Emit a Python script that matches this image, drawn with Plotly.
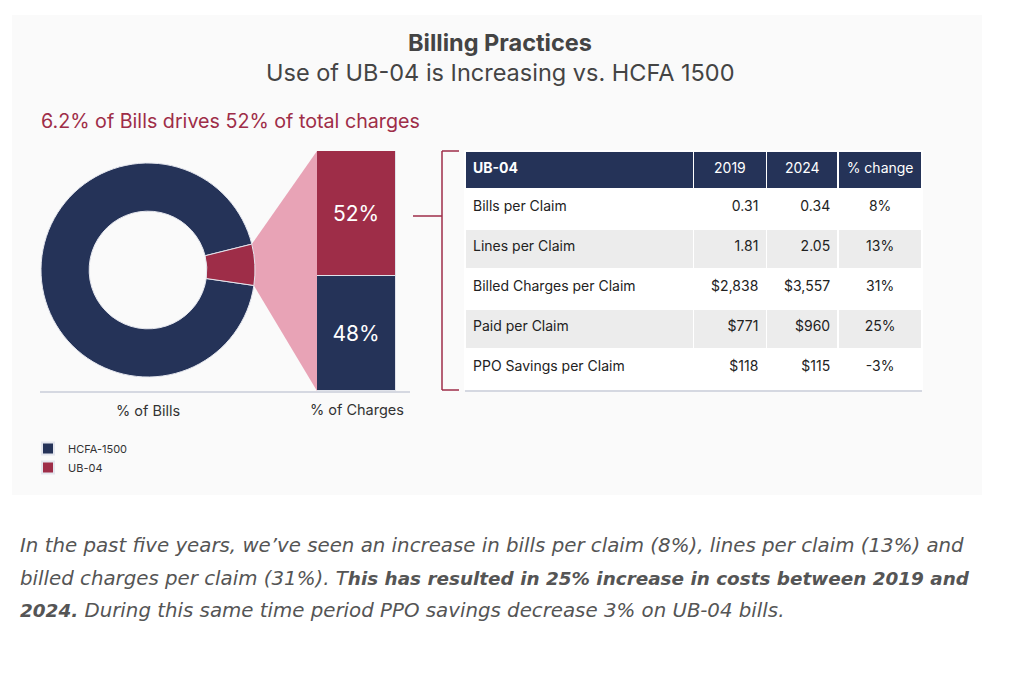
import math

import plotly.graph_objects as go

# the page puts the figure 8px in from the top-left corner
OFF = 8
W, H = 1008, 669

# data
bill_labels = ["HCFA-1500", "UB-04"]
bill_share = [93.8, 6.2]
charge_share = {"HCFA-1500": 48, "UB-04": 52}

table_header = ["UB-04", "2019", "2024", "% change"]
row_names = ["Bills per Claim", "Lines per Claim", "Billed Charges per Claim", "Paid per Claim",
             "PPO Savings per Claim"]
vals_2019 = ["0.31", "1.81", "$2,838", "$771", "$118"]
vals_2024 = ["0.34", "2.05", "$3,557", "$960", "$115"]
pct_change = ["8%", "13%", "31%", "25%", "-3%"]

NAVY = "#253358"
RED = "#9e2d48"
PINK = "#e8a3b6"
GREY_ROW = "#ececec"
FONT = "Inter"


def px(x):
    return (x - OFF) / W


def py(y):
    return 1 - (y - OFF) / H


def span(items):
    # tagged text sits a little lower in table cells, closer to the reference
    return ["<span>{}</span>".format(s.replace(" ", "\u00a0")) for s in items]


# donut geometry (pixels, page coords)
cx, cy, r_out = 148, 270, 107
ub_deg = 360 * bill_share[1] / sum(bill_share)
ub_start = 76  # clockwise from 12 o'clock
rotation = ub_start + ub_deg

fig = go.Figure()

fig.add_trace(go.Pie(
    labels=bill_labels, values=bill_share, hole=0.55, sort=False, direction="clockwise",
    rotation=rotation, textinfo="none", hoverinfo="label+percent",
    marker=dict(colors=[NAVY, RED], line=dict(color="#e4e6ee", width=1)),
    domain=dict(x=[px(cx - r_out), px(cx + r_out)], y=[py(cy + r_out), py(cy - r_out)]),
))

# stacked bar of charges
bar_left, bar_right, bar_top, bar_bot = 317, 396, 151, 391
for name, col in [("HCFA-1500", NAVY), ("UB-04", RED)]:
    fig.add_trace(go.Bar(
        x=["% of Charges"], y=[charge_share[name]], name=name, showlegend=False, width=1,
        marker=dict(color=col, line=dict(color="#dfe2ea", width=1)),
        text=["{}%".format(charge_share[name])], textposition="inside", insidetextanchor="middle",
        textfont=dict(color="white", size=21, family=FONT),
        xaxis="x", yaxis="y",
    ))

# table
header_vals = ["<b>{}</b>".format(table_header[0])] + span(table_header[1:])
fig.add_trace(go.Table(
    domain=dict(x=[px(465), px(922)], y=[py(391), py(151)]),
    columnwidth=[229, 73, 72, 84],
    header=dict(values=header_vals,
                fill_color=NAVY, line=dict(color="white", width=1.5),
                align=["left", "center", "center", "center"], height=38,
                font=dict(color="white", size=14, family=FONT)),
    cells=dict(values=[span(row_names), span(vals_2019), span(vals_2024), span(pct_change)],
               fill_color=[["white", GREY_ROW, "white", GREY_ROW, "white"]] * 4,
               line=dict(color="white", width=1.5),
               align=["left", "right", "right", "center"], height=40,
               font=dict(color="#222", size=14, family=FONT)),
))

# connector wedge from the UB-04 slice to the bar
a1 = math.radians(90 - ub_start)
a2 = math.radians(90 - ub_start - ub_deg)
p1 = (cx + r_out * math.cos(a1), cy - r_out * math.sin(a1))
p2 = (cx + r_out * math.cos(a2), cy - r_out * math.sin(a2))
path = "M {} {} L {} {} L {} {} L {} {} Z".format(
    px(p1[0]), py(p1[1]), px(bar_left), py(bar_top), px(bar_left), py(bar_bot), px(p2[0]), py(p2[1]))


def hline(x0, x1, y, color, width=1.5):
    return dict(type="line", xref="paper", yref="paper", x0=px(x0), x1=px(x1), y0=py(y), y1=py(y),
                line=dict(color=color, width=width))


shapes = [
    # faint backdrop panel
    dict(type="rect", xref="paper", yref="paper", x0=px(12), x1=px(982), y0=py(495), y1=py(15),
         fillcolor="#fafafa", line=dict(width=0), layer="below"),
    dict(type="path", path=path, xref="paper", yref="paper", fillcolor=PINK, line=dict(width=0), layer="below"),
    hline(40, 410, 392, "#c9cdd8"),
    # bracket
    hline(413, 442, 216, RED),
    dict(type="line", xref="paper", yref="paper", x0=px(442), x1=px(442), y0=py(151), y1=py(390),
         line=dict(color=RED, width=1.5)),
    hline(442, 459, 151, RED),
    hline(442, 459, 390, RED),
    # table bottom rule
    hline(465, 922, 391, "#c9cdd8"),
]

PARA = dict(size=19.8, color="#555", family="DejaVu Sans")
BOLD = '<span style="font-size:18.4px"><b>{}</b></span>'
annotations = [
    dict(text="<b>Billing Practices</b>", x=px(500), y=py(42), font=dict(size=23.5, color="#444", family=FONT)),
    dict(text="Use of UB-04 is Increasing vs. HCFA 1500", x=px(500), y=py(73),
         font=dict(size=23.5, color="#444", family=FONT)),
    dict(text="6.2% of Bills drives 52% of total charges", x=px(39), y=py(121), xanchor="left",
         font=dict(size=19.7, color=RED, family=FONT)),
    dict(text="% of Bills", x=px(148), y=py(410), font=dict(size=14.5, color="#333", family=FONT)),
    dict(text="% of Charges", x=px(357), y=py(410), font=dict(size=14.5, color="#333", family=FONT)),
    dict(text="<i>In the past five years, we\u2019ve seen an increase in bills per claim (8%), lines per claim (13%) and</i>",
         x=px(18), y=py(545), xanchor="left", font=PARA),
    dict(text="<i>billed charges per claim (31%). T" + BOLD.format("his has resulted in 25% increase in costs between 2019 and") + "</i>",
         x=px(18), y=py(578), xanchor="left", font=PARA),
    dict(text="<i>" + BOLD.format("2024.") + " During this same time period PPO savings decrease 3% on UB-04 bills.</i>",
         x=px(18), y=py(610), xanchor="left", font=PARA),
]
for a in annotations:
    a.update(xref="paper", yref="paper", showarrow=False)
    a.setdefault("xanchor", "center")
    a.setdefault("yanchor", "middle")

fig.update_layout(
    width=W, height=H, margin=dict(l=0, r=0, t=0, b=0),
    paper_bgcolor="white", plot_bgcolor="rgba(0,0,0,0)",
    barmode="stack", bargap=0,
    xaxis=dict(domain=[px(bar_left), px(bar_right)], range=[-0.5, 0.5], visible=False, fixedrange=True),
    yaxis=dict(domain=[py(bar_bot), py(bar_top)], range=[0, 100], visible=False, fixedrange=True),
    showlegend=True,
    legend=dict(x=px(28), y=py(434), xanchor="left", yanchor="top", bgcolor="rgba(0,0,0,0)",
                traceorder="normal",
                font=dict(size=11, color="#333", family=FONT), itemsizing="constant"),
    shapes=shapes, annotations=annotations,
    font=dict(family=FONT),
)

fig.write_html("out.html")
